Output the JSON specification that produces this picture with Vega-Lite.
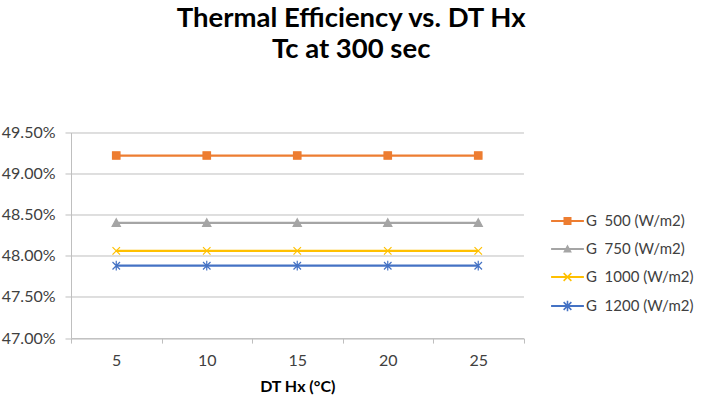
{
  "$schema": "https://vega.github.io/schema/vega-lite/v6.json",
  "width": 452.5,
  "height": 205.6,
  "autosize": "none",
  "padding": {"left": 71, "top": 132.5, "right": 178.5, "bottom": 59},
  "background": "white",
  "title": {
    "text": ["Thermal Efficiency vs. DT Hx", "Tc at 300 sec"],
    "anchor": "middle",
    "frame": "group",
    "dx": 54,
    "offset": 39,
    "fontSize": 27.5,
    "lineHeight": 31,
    "font": "Lato",
    "fontWeight": "bold",
    "color": "#000000",
    "baseline": "alphabetic"
  },
  "data": {
    "values": [
      {"dt": "5", "series": "G  500 (W/m2)", "eff": 0.4922},
      {"dt": "10", "series": "G  500 (W/m2)", "eff": 0.4922},
      {"dt": "15", "series": "G  500 (W/m2)", "eff": 0.4922},
      {"dt": "20", "series": "G  500 (W/m2)", "eff": 0.4922},
      {"dt": "25", "series": "G  500 (W/m2)", "eff": 0.4922},
      {"dt": "5", "series": "G  750 (W/m2)", "eff": 0.4840},
      {"dt": "10", "series": "G  750 (W/m2)", "eff": 0.4840},
      {"dt": "15", "series": "G  750 (W/m2)", "eff": 0.4840},
      {"dt": "20", "series": "G  750 (W/m2)", "eff": 0.4840},
      {"dt": "25", "series": "G  750 (W/m2)", "eff": 0.4840},
      {"dt": "5", "series": "G  1000 (W/m2)", "eff": 0.4806},
      {"dt": "10", "series": "G  1000 (W/m2)", "eff": 0.4806},
      {"dt": "15", "series": "G  1000 (W/m2)", "eff": 0.4806},
      {"dt": "20", "series": "G  1000 (W/m2)", "eff": 0.4806},
      {"dt": "25", "series": "G  1000 (W/m2)", "eff": 0.4806},
      {"dt": "5", "series": "G  1200 (W/m2)", "eff": 0.4788},
      {"dt": "10", "series": "G  1200 (W/m2)", "eff": 0.4788},
      {"dt": "15", "series": "G  1200 (W/m2)", "eff": 0.4788},
      {"dt": "20", "series": "G  1200 (W/m2)", "eff": 0.4788},
      {"dt": "25", "series": "G  1200 (W/m2)", "eff": 0.4788}
    ]
  },
  "encoding": {
    "x": {
      "field": "dt",
      "type": "ordinal",
      "sort": ["5", "10", "15", "20", "25"],
      "scale": {"type": "band", "paddingInner": 0, "paddingOuter": 0},
      "axis": {
        "title": "DT Hx (°C)",
        "labelAngle": 0,
        "tickBand": "extent",
        "tickSize": 5,
        "labelPadding": 9,
        "titlePadding": 10,
        "grid": false
      }
    },
    "y": {
      "field": "eff",
      "type": "quantitative",
      "scale": {"domain": [0.47, 0.495], "zero": false, "nice": false},
      "axis": {
        "title": null,
        "format": ".2%",
        "values": [0.47, 0.475, 0.48, 0.485, 0.49, 0.495],
        "tickSize": 6,
        "labelPadding": 10,
        "grid": true
      }
    }
  },
  "layer": [
    {
      "mark": {"type": "line", "strokeWidth": 2.25},
      "encoding": {
        "stroke": {
          "field": "series",
          "type": "nominal",
          "scale": {
            "domain": ["G  500 (W/m2)", "G  750 (W/m2)", "G  1000 (W/m2)", "G  1200 (W/m2)"],
            "range": ["#ED7D31", "#A5A5A5", "#FFC000", "#4472C4"]
          },
          "legend": null
        }
      }
    },
    {
      "mark": {"type": "point", "size": 56, "opacity": 1, "strokeWidth": 1.2},
      "encoding": {
        "shape": {
          "field": "series",
          "type": "nominal",
          "scale": {
            "domain": ["G  500 (W/m2)", "G  750 (W/m2)", "G  1000 (W/m2)", "G  1200 (W/m2)"],
            "range": ["M-1,-1H1V1H-1Z", "M0,-1.1L1.1,0.9H-1.1Z", "M-1,-1L1,1M-1,1L1,-1", "M-1,-1L1,1M-1,1L1,-1M0,-1.3V1.3"]
          },
          "legend": null
        },
        "fill": {
          "field": "series",
          "type": "nominal",
          "scale": {
            "domain": ["G  500 (W/m2)", "G  750 (W/m2)", "G  1000 (W/m2)", "G  1200 (W/m2)"],
            "range": ["#ED7D31", "#A5A5A5", "#FFC000", "#4472C4"]
          },
          "legend": null
        },
        "stroke": {
          "field": "series",
          "type": "nominal",
          "legend": null
        }
      }
    },
    {
      "mark": {"type": "point", "size": 64, "opacity": 0, "filled": true},
      "encoding": {
        "shape": {
          "field": "series",
          "type": "nominal",
          "scale": {
            "domain": ["G  500 (W/m2)", "G  750 (W/m2)", "G  1000 (W/m2)", "G  1200 (W/m2)"],
            "range": [
              "M-4.1,-0.25H4.1V0.25H-4.1ZM-1,-1H1V1H-1Z",
              "M-4.1,-0.25H4.1V0.25H-4.1ZM0,-1.1L1.1,0.9H-1.1Z",
              "M-4.1,-0.25H4.1V0.25H-4.1ZM-0.83,-1.1L1.1,0.83L0.83,1.1L-1.1,-0.83ZM1.1,-0.83L-0.83,1.1L-1.1,0.83L0.83,-1.1Z",
              "M-4.1,-0.25H4.1V0.25H-4.1ZM-0.83,-1.1L1.1,0.83L0.83,1.1L-1.1,-0.83ZM1.1,-0.83L-0.83,1.1L-1.1,0.83L0.83,-1.1ZM-0.2,-1.3H0.2V1.3H-0.2Z"
            ]
          },
          "legend": {
            "title": null,
            "orient": "none",
            "legendX": 489,
            "legendY": 81,
            "padding": 0,
            "symbolSize": 64,
            "symbolOpacity": 1,
            "labelOffset": 11,
            "rowPadding": 12,
            "labelFontSize": 15,
            "labelFont": "Lato",
            "labelColor": "#404040",
            "labelExpr": "replace(datum.label, ' ', '\u00a0')"
          }
        },
        "color": {
          "field": "series",
          "type": "nominal",
          "scale": {
            "domain": ["G  500 (W/m2)", "G  750 (W/m2)", "G  1000 (W/m2)", "G  1200 (W/m2)"],
            "range": ["#ED7D31", "#A5A5A5", "#FFC000", "#4472C4"]
          },
          "legend": {
            "title": null,
            "orient": "none",
            "legendX": 489,
            "legendY": 81,
            "padding": 0,
            "symbolSize": 64,
            "symbolOpacity": 1,
            "labelOffset": 11,
            "rowPadding": 12,
            "labelFontSize": 15,
            "labelFont": "Lato",
            "labelColor": "#404040",
            "labelExpr": "replace(datum.label, ' ', '\u00a0')"
          }
        }
      }
    }
  ],
  "resolve": {
    "scale": {"shape": "independent"},
    "legend": {"shape": "independent", "color": "independent"}
  },
  "config": {
    "view": {"stroke": null},
    "axis": {
      "labelFont": "Lato",
      "labelFontSize": 16,
      "labelColor": "#404040",
      "titleFont": "Lato",
      "titleFontSize": 16,
      "titleFontWeight": "bold",
      "titleColor": "#000000",
      "domainColor": "#BFBFBF",
      "tickColor": "#BFBFBF",
      "gridColor": "#BFBFBF",
      "domainWidth": 1,
      "tickWidth": 1,
      "gridWidth": 1
    }
  }
}
